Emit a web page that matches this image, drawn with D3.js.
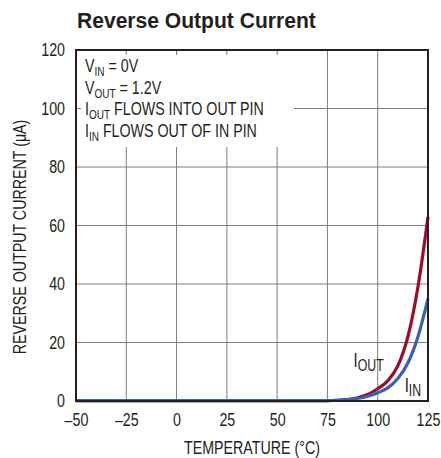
<!DOCTYPE html>
<html><head><meta charset="utf-8">
<script src="https://cdn.jsdelivr.net/npm/d3@7/dist/d3.min.js"></script>
<style>
body{margin:0;background:#fff;}
text{font-family:"Liberation Sans",Arial,sans-serif;fill:#231f20;}
</style></head>
<body>
<svg id="chart" width="441" height="458"></svg>
<script>
const temperature = [-50, -25, 0, 25, 50, 75, 80, 85, 90, 95, 100, 105, 110, 115, 120, 125];
const iOut = [0.1, 0.1, 0.1, 0.1, 0.1, 0.15, 0.25, 0.5, 1.1, 2.2, 4.2, 6.9, 12, 22, 39, 63];
const iIn  = [0.1, 0.1, 0.1, 0.1, 0.1, 0.15, 0.25, 0.45, 0.85, 1.6, 2.8, 4.5, 7.7, 13, 22, 35];
const xTicks = [-50, -25, 0, 25, 50, 75, 100, 125];
const yTicks = [0, 20, 40, 60, 80, 100, 120];

const SX = 0.77; // horizontal condensing to imitate a condensed face
function condense(sel, sx) {
  sel.each(function () {
    const t = d3.select(this);
    const X = +(t.attr("x") || 0);
    const prev = t.attr("transform") || "";
    t.attr("transform", `${prev} translate(${X * (1 - sx)},0) scale(${sx},1)`);
  });
}

const svg = d3.select("#chart");
const L = 76, R = 428, T = 50, B = 401;
const x = d3.scaleLinear().domain([-50, 125]).range([L, R]);
const y = d3.scaleLinear().domain([0, 120]).range([B, T]);

// title
const title = svg.append("text").attr("x", 77).attr("y", 28).attr("font-size", 22).attr("font-weight", "bold")
  .text("Reverse Output Current");
condense(title, 239 / title.node().getComputedTextLength());

// grid
const g = svg.append("g");
g.selectAll(".vg").data(xTicks.slice(1, -1)).join("line")
  .attr("x1", d => x(d)).attr("x2", d => x(d)).attr("y1", T).attr("y2", B)
  .attr("stroke", "#7d7d7d").attr("stroke-width", 1);
g.selectAll(".hg").data(yTicks.slice(1, -1)).join("line")
  .attr("y1", d => y(d)).attr("y2", d => y(d)).attr("x1", L).attr("x2", R)
  .attr("stroke", "#7d7d7d").attr("stroke-width", 1);

// annotation box
svg.append("rect").attr("x", 81).attr("y", 55).attr("width", 213).attr("height", 92).attr("fill", "#fff");
const ann = [
  ["V", "IN", " = 0V"],
  ["V", "OUT", " = 1.2V"],
  ["I", "OUT", " FLOWS INTO OUT PIN"],
  ["I", "IN", " FLOWS OUT OF IN PIN"]
];
ann.forEach((a, i) => {
  const t = svg.append("text").attr("x", 85).attr("y", 72 + i * 21.6).attr("font-size", 18.5);
  const [m, s, rest] = a;
  t.append("tspan").text(m);
  t.append("tspan").attr("font-size", 13).attr("dy", 4).text(s);
  t.append("tspan").attr("dy", -4).text(rest);
  condense(t, SX);
});

// curves
const line = d3.line().x((d, i) => x(temperature[i])).y(d => y(d)).curve(d3.curveMonotoneX);
svg.append("path").datum(iOut).attr("d", line).attr("fill", "none")
  .attr("stroke", "#a0092e").attr("stroke-width", 3.2);
svg.append("path").datum(iIn).attr("d", line).attr("fill", "none")
  .attr("stroke", "#3d5fb0").attr("stroke-width", 3.2);

// frame
svg.append("rect").attr("x", L).attr("y", T).attr("width", R - L).attr("height", B - T)
  .attr("fill", "none").attr("stroke", "#231f20").attr("stroke-width", 2);

// axes labels
const xAxis = d3.axisBottom(x).tickValues(xTicks).tickSize(0).tickPadding(12)
  .tickFormat(d => d < 0 ? "\u2013" + Math.abs(d) : d);
const xa = svg.append("g").attr("transform", `translate(0,${B})`).call(xAxis);
xa.select(".domain").remove();
xa.selectAll("text").attr("font-size", 18.5).attr("fill", "#231f20").attr("font-family", null);
condense(xa.selectAll("text"), SX);

const yAxis = d3.axisLeft(y).tickValues(yTicks).tickSize(0).tickPadding(11);
const ya = svg.append("g").attr("transform", `translate(${L},0)`).call(yAxis);
ya.select(".domain").remove();
ya.selectAll("text").attr("font-size", 18.5).attr("fill", "#231f20").attr("font-family", null);
condense(ya.selectAll("text"), SX);

const xt = svg.append("text").attr("x", 252).attr("y", 454).attr("text-anchor", "middle").attr("font-size", 18.5)
  .text("TEMPERATURE (°C)");
condense(xt, SX);
const yt = svg.append("text").attr("x", 0).attr("y", 0).attr("text-anchor", "middle")
  .attr("font-size", 18.5).text("REVERSE OUTPUT CURRENT (μA)");
yt.attr("transform", `translate(26,237) rotate(-90) scale(${SX},1)`);

// curve labels
const l1 = svg.append("text").attr("x", x(88)).attr("y", y(11.5)).attr("font-size", 19.5);
l1.append("tspan").text("I");
l1.append("tspan").attr("font-size", 16).attr("dy", 4).text("OUT");
condense(l1, SX);
const l2 = svg.append("text").attr("x", x(113.4)).attr("y", y(3.1)).attr("font-size", 19.5);
l2.append("tspan").text("I");
l2.append("tspan").attr("font-size", 16).attr("dy", 4).text("IN");
condense(l2, SX);
</script>
</body></html>
